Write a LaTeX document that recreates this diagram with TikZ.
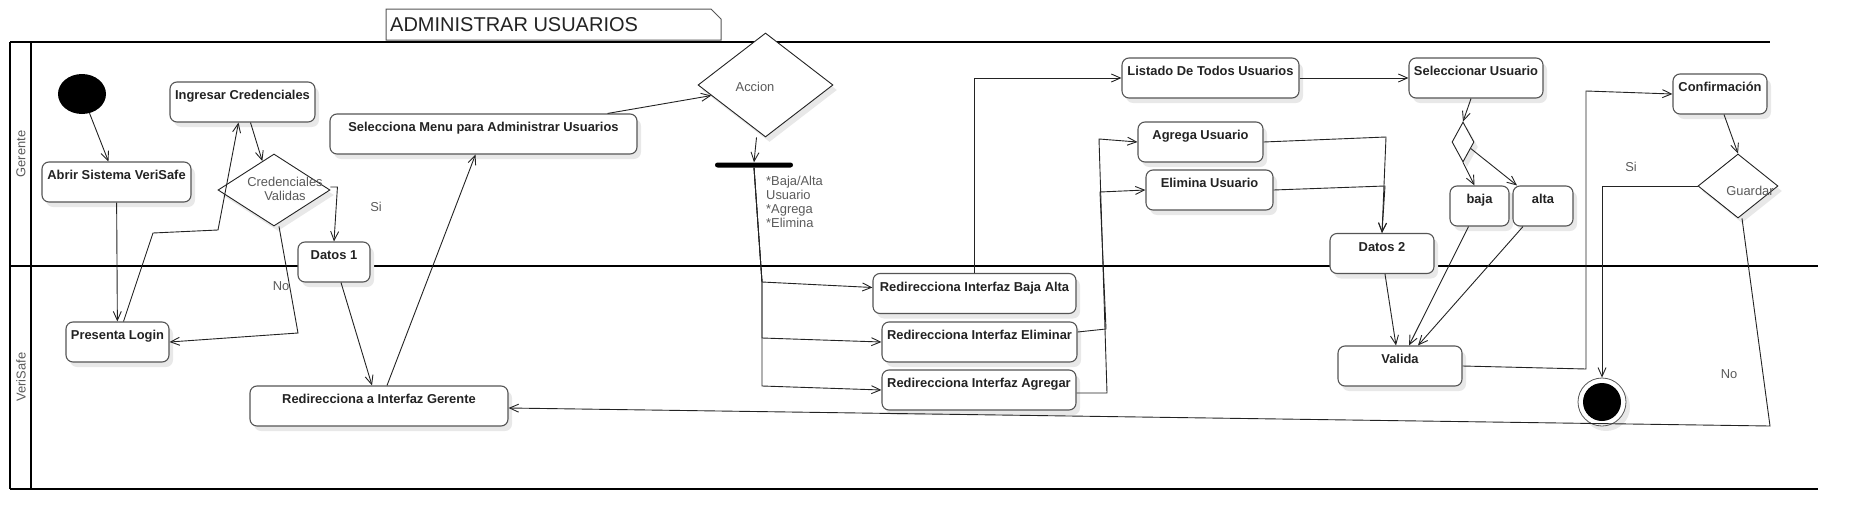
\documentclass[tikz,border=0pt]{standalone}
\usepackage{fontspec}
\setmainfont{Liberation Sans}
\definecolor{LineGray}{RGB}{85, 85, 85}
\definecolor{InkGray}{RGB}{35, 35, 35}
\definecolor{GuardGray}{RGB}{90, 90, 90}
\usetikzlibrary{arrows.meta, positioning, calc, shapes.geometric, shadows}

\begin{document}
\begin{tikzpicture}[
        x=1pt, y=-1pt,
        >={Straight Barb[length=9pt, width=8pt]},
        activity/.style={rectangle, rounded corners=7pt, draw=LineGray, line width=1.1pt, fill=white, text=InkGray, font=\bfseries\fontsize{12.9}{14}\selectfont, text height=12.5pt, text depth=17.5pt, inner xsep=3pt, inner ysep=5pt, drop shadow={shadow xshift=4pt, shadow yshift=-5pt, fill=black!9, opacity=1}},
        decision/.style={diamond, draw=InkGray, line width=0.9pt, fill=white, inner sep=0pt, drop shadow={shadow xshift=4pt, shadow yshift=-5pt, fill=black!9, opacity=1}},
        guard_label/.style={text=GuardGray, font=\fontsize{12.9}{14}\selectfont, inner sep=0pt},
        flow/.style={->, draw=InkGray, line width=0.9pt},
        lane_line/.style={draw=black, line width=2pt}
    ]
        \useasboundingbox (0,0) rectangle (1858,530);

        % Swimlanes
        \draw[lane_line] (10,42) -- (1770,42);
        \draw[lane_line] (10,266) -- (1818,266);
        \draw[lane_line] (10,489) -- (1818,489);
        \draw[lane_line] (10,42) -- (10,489);
        \draw[lane_line] (31,42) -- (31,489);
        \node[guard_label, rotate=90] (gerente_lane) at (21,154) {Gerente};
        \node[guard_label, rotate=90] (verisafe_lane) at (21,377) {VeriSafe};

        % Title
        \draw[draw=LineGray, line width=1pt] (386,9) -- (711,9) -- (721,19) -- (721,40) -- (386,40) -- cycle;
        \node[anchor=west, text=InkGray, font=\fontsize{20}{22}\selectfont, inner sep=0pt] (titulo) at (390,25) {ADMINISTRAR USUARIOS};

        % Nodes
        \node[ellipse, fill=black, minimum width=48pt, minimum height=40pt, inner sep=0pt] (inicio) at (82,94) {};
        \node[activity, minimum width=149pt] (abrir) at (116.5,182) {Abrir Sistema VeriSafe};
        \node[activity, minimum width=145pt] (ingresar) at (242.5,102) {Ingresar Credenciales};
        \node[activity, minimum width=307pt] (menu) at (483.5,134) {Selecciona Menu para Administrar Usuarios};
        \node[decision, minimum width=112pt, minimum height=72pt] (cred) at (274,190) {};
        \node[guard_label, align=center] (cred_text) at (285,189) {Credenciales\\Validas};
        \node[activity, minimum width=72pt] (datos1) at (334,262) {Datos 1};
        \node[activity, minimum width=103pt] (login) at (117.5,342) {Presenta Login};
        \node[activity, minimum width=258pt] (gerente) at (379,406) {Redirecciona a Interfaz Gerente};

        \node[decision, minimum width=135pt, minimum height=104pt] (accion) at (765.5,85) {};
        \node[guard_label] (accion_text) at (755,87) {Accion};
        \node[rectangle, fill=black, rounded corners=2.5pt, minimum width=78pt, minimum height=5pt, inner sep=0pt] (fork) at (754,165) {};
        \node[guard_label, align=left, anchor=north west] (acciones) at (766,176) {*Baja/Alta\\Usuario\\*Agrega\\*Elimina};

        \node[activity, minimum width=203pt] (bajaalta) at (974.5,293.5) {Redirecciona Interfaz Baja Alta};
        \node[activity, minimum width=195pt] (eliminar) at (979.5,342) {Redirecciona Interfaz Eliminar};
        \node[activity, minimum width=194pt] (agregar) at (979,390) {Redirecciona Interfaz Agregar};

        \node[activity, minimum width=177pt] (listado) at (1210.5,78) {Listado De Todos Usuarios};
        \node[activity, minimum width=125pt] (agrega) at (1200.5,142) {Agrega Usuario};
        \node[activity, minimum width=127pt] (elimina) at (1209.5,190) {Elimina Usuario};
        \node[activity, minimum width=104pt] (datos2) at (1382,253.5) {Datos 2};

        \node[activity, minimum width=134pt] (seleccionar) at (1476,78) {Seleccionar Usuario};
        \node[decision, minimum width=22pt, minimum height=40pt] (sel_dec) at (1463,142) {};
        \node[activity, minimum width=59pt] (baja) at (1479.5,206) {baja};
        \node[activity, minimum width=60pt] (alta) at (1543,206) {alta};
        \node[activity, minimum width=124pt] (valida) at (1400,366) {Valida};

        \node[activity, minimum width=94pt] (confirmacion) at (1720,94) {Confirmación};
        \node[decision, minimum width=80pt, minimum height=64pt] (guardar) at (1738,186) {};
        \node[guard_label] (guardar_text) at (1750,191) {Guardar};
        \node[circle, draw=LineGray, line width=0.8pt, fill=white, minimum size=48pt, inner sep=0pt,
              path picture={\fill[black] (path picture bounding box.center) circle (19pt);},
              drop shadow={shadow xshift=4pt, shadow yshift=-5pt, fill=black!9, opacity=1}] (fin) at (1602,402) {};

        \node[guard_label] (si1) at (376,207) {Si};
        \node[guard_label] (no1) at (281,286) {No};
        \node[guard_label] (si2) at (1631,167) {Si};
        \node[guard_label] (no2) at (1729,374) {No};

        % Edges
        \draw[flow] (inicio) -- (abrir);
        \draw[flow] (abrir) -- (login);
        \draw[flow] ([xshift=6pt]login.north) -- (153,233) -- (218,230) -- ([xshift=-4pt]ingresar.south);
        \draw[flow] ([xshift=8pt]ingresar.south) -- (cred.112);
        \draw[flow] ([yshift=3pt]cred.east) -- ++(7,0) -- (datos1.north);
        \draw[flow] ([xshift=5pt]cred.south) -- (298,333) -- (login.east);
        \draw[flow] ([xshift=7pt]datos1.south) -- ([xshift=-7pt]gerente.north);
        \draw[flow] ([xshift=8pt]gerente.north) -- ([xshift=-8pt]menu.south);
        \draw[flow] ([xshift=-30pt]menu.north east) -- (accion.191);
        \draw[flow] ([xshift=-9pt]accion.south) -- (fork.north);

        \draw[flow] (fork.south) -- (762,282) -- ([yshift=6pt]bajaalta.west);
        \draw[flow] (fork.south) -- (762,282) -- (762,338) -- (eliminar.west);
        \draw[flow] (fork.south) -- (762,282) -- (762,386) -- (agregar.west);

        \draw[flow] (bajaalta.north) -- (bajaalta.north |- listado.west) -- (listado.west);
        \draw[flow] ([yshift=10pt]eliminar.east) -- (1106,329) -- (1100,192) -- (elimina.west);
        \draw[flow] ([yshift=-3pt]agregar.east) -- (1107,393) -- (1099,139) -- (agrega.west);
        \draw[flow] (agrega.east) -- (1386,137) -- (datos2.north);
        \draw[flow] (elimina.east) -- (1385,186) -- (datos2.north);
        \draw[flow] (listado) -- (seleccionar);
        \draw[flow] ([xshift=-5pt]seleccionar.south) -- (sel_dec.north);
        \draw[flow] (sel_dec.south) -- ([xshift=-5pt]baja.north);
        \draw[flow] (sel_dec.-40) -- ([xshift=-26pt]alta.north);
        \draw[flow] ([xshift=3pt]datos2.south) -- ([xshift=-4pt]valida.north);
        \draw[flow] ([xshift=-11pt]baja.south) -- ([xshift=9pt]valida.north);
        \draw[flow] ([xshift=-20pt]alta.south) -- ([xshift=18pt]valida.north);
        \draw[flow] (valida.east) -- (1586,369) -- (1586,91) -- (confirmacion.west);
        \draw[flow] ([xshift=4pt]confirmacion.south) -- (guardar.north);
        \draw[flow] (guardar.west) -| (fin.north);
        \draw[flow] ([xshift=4pt]guardar.south) -- (1770,426) -- ([yshift=-2pt]gerente.east);
    \end{tikzpicture}
\end{document}
